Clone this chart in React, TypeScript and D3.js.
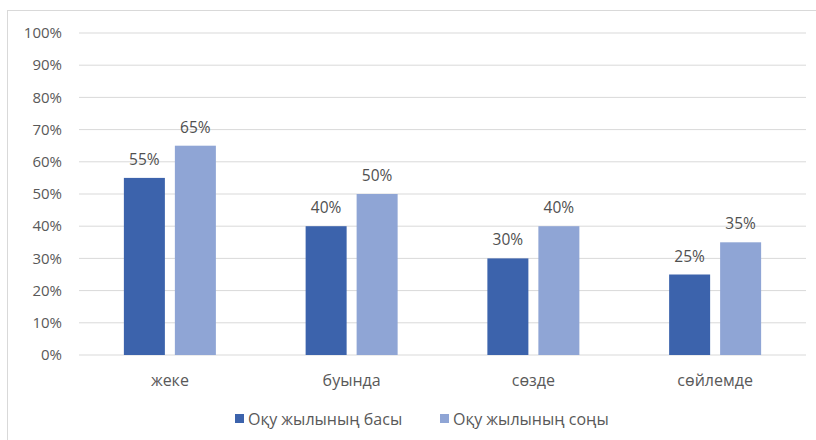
import React from "react";
import * as d3 from "d3";

const categories = ["жеке", "буында", "сөзде", "сөйлемде"];
const seriesNames = ["Оқу жылының басы", "Оқу жылының соңы"];
const startValues = [55, 40, 30, 25];
const endValues = [65, 50, 40, 35];
const yTicks = [0, 10, 20, 30, 40, 50, 60, 70, 80, 90, 100];
const colors = ["#3C63AC", "#8FA5D5"];

const W = 816;
const H = 440;
const font = "'Open Sans', 'Liberation Sans', Arial, sans-serif";
const fs = 15;
const fsText = 16;

export default function App() {
  const x0 = d3.scaleBand<string>().domain(categories).range([79, 806]).paddingInner(0).paddingOuter(0);
  const x1 = d3.scaleBand<number>().domain([0, 1]).range([-46, 46]).paddingInner(0.196);
  const y = d3.scaleLinear().domain([0, 100]).range([355, 33]);
  const series = [startValues, endValues];

  return (
    <svg width={W} height={H} style={{ position: "absolute", left: 0, top: 0 }} fontFamily={font}>
      <rect x={7.5} y={10.5} width={W} height={H} fill="#fff" stroke="#d9d9d9" strokeWidth={1} />
      {yTicks.map((t) => (
        <g key={t}>
          <line x1={79} x2={806} y1={y(t)} y2={y(t)} stroke="#d9d9d9" strokeWidth={1} />
          <text x={62} y={y(t)} dy="0.35em" textAnchor="end" fontSize={fs} fill="#595959">
            {t}%
          </text>
        </g>
      ))}
      {categories.map((c, i) => {
        const cx = (x0(c) as number) + x0.bandwidth() / 2;
        return (
          <g key={c}>
            {series.map((s, k) => {
              const bx = cx + (x1(k) as number);
              const bw = x1.bandwidth();
              return (
                <g key={k}>
                  <rect x={bx} y={y(s[i])} width={bw} height={y(0) - y(s[i])} fill={colors[k]} />
                  <text x={bx + bw / 2} y={y(s[i]) - 13} textAnchor="middle" fontSize={fs + 0.5} fill="#505050">
                    {s[i]}%
                  </text>
                </g>
              );
            })}
            <text x={cx} y={380} dy="0.35em" textAnchor="middle" fontSize={fsText} fill="#595959">
              {c}
            </text>
          </g>
        );
      })}
      {seriesNames.map((n, k) => {
        const lx = k === 0 ? 235 : 440;
        return (
          <g key={n}>
            <rect x={lx} y={414} width={9} height={9} fill={colors[k]} />
            <text x={lx + 13} y={419} dy="0.35em" fontSize={fsText} fill="#595959">
              {n}
            </text>
          </g>
        );
      })}
    </svg>
  );
}
